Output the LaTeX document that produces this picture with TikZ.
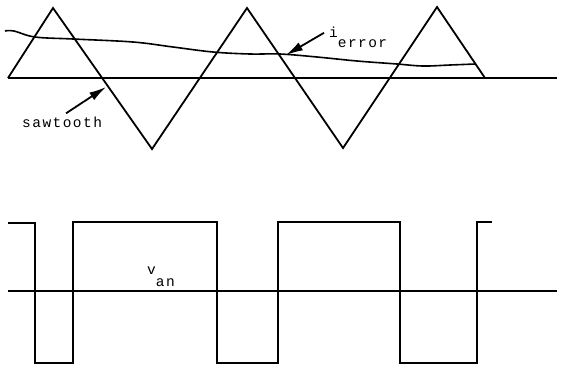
\documentclass[tikz,border=0pt]{standalone}
\usepackage{fontspec}
\setmonofont{Liberation Mono}[LetterSpace=10]
\usetikzlibrary{arrows.meta,positioning}

\begin{document}
\begin{tikzpicture}[
    x=1pt, y=-1pt,
    axis/.style={line width=1.1pt, color=black},
    wave/.style={line width=1.8pt, line join=miter, color=black},
    ptr/.style={-{Latex[length=17pt,width=9pt]}, line width=1.8pt},
    lbl/.style={font=\ttfamily\fontsize{14.5}{15}\selectfont, inner sep=0pt}
]
    \useasboundingbox (0,0) rectangle (561,368);

    % upper panel: sawtooth against error current
    \draw[axis] (8,78) -- (557,78);
    \draw[wave] (8,78) -- (53,8) -- (152,149) -- (247,8) -- (343,148) -- (437,7) -- (485,78);
    \draw[wave, line width=1.6pt] plot[smooth, tension=0.6] coordinates {
        (5,31) (14,31) (35,37) (73,39) (133,42) (173,47) (213,52) (250,54)
        (280,54) (317,57) (357,61) (397,64) (423,66) (450,65) (475,64)};

    \coordinate (sawpt) at (106,87);
    \coordinate (errpt) at (286,55);
    \node[lbl, anchor=base west] (sawlbl) at (22,127) {sawtooth};
    \node[lbl, anchor=base west] (errlbl) at (329,37) {i\raisebox{-10pt}{error}};
    \draw[ptr] ([xshift=4pt,yshift=3pt]sawlbl.north) -- (sawpt);
    \draw[ptr] ([xshift=-5pt,yshift=4pt]errlbl.west) -- (errpt);

    % lower panel: phase voltage
    \draw[axis] (8,291) -- (557,291);
    \draw[wave] (8,223) -- (35,223) -- (35,363) -- (73,363) -- (73,222) -- (217,222)
        -- (217,363) -- (278,363) -- (278,222) -- (400,222) -- (400,363) -- (477,363)
        -- (477,222) -- (492,222);
    \node[lbl, anchor=base west] (vanlbl) at (147,274) {v\raisebox{-12pt}{an}};
\end{tikzpicture}
\end{document}
